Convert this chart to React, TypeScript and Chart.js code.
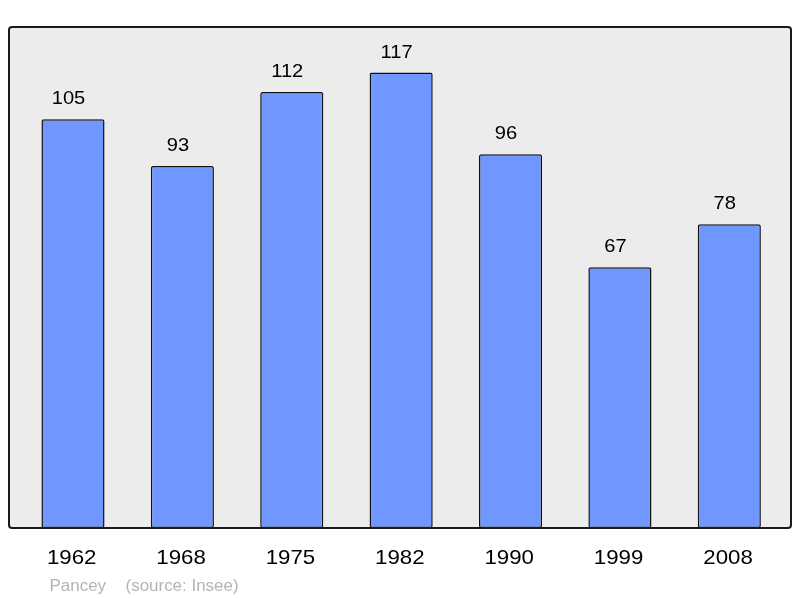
import React, { useEffect, useRef } from "react";
import { Chart, registerables } from "chart.js";

Chart.register(...registerables);

const years: string[] = ["1962", "1968", "1975", "1982", "1990", "1999", "2008"];
const population: number[] = [105, 93, 112, 117, 96, 67, 78];
const commune = "Pancey";
const sourceNote = "(source: Insee)";

const FONT = "'Liberation Sans', Arial, sans-serif";
const STRETCH = 1.06;

function stretchedText(ctx: CanvasRenderingContext2D, text: string, x: number, y: number) {
  ctx.save();
  ctx.translate(x, y);
  ctx.scale(STRETCH, 1);
  ctx.fillText(text, 0, 0);
  ctx.restore();
}

const framePlugin = {
  id: "framePlugin",
  beforeDatasetsDraw(chart: any) {
    const { ctx, chartArea } = chart;
    const l = chartArea.left - 9.3;
    const r = chartArea.right + 7;
    const t = chartArea.top;
    const b = chartArea.bottom;
    ctx.save();
    ctx.fillStyle = "#ececec";
    ctx.beginPath();
    ctx.roundRect(l, t, r - l, b - t, 3);
    ctx.fill();
    ctx.restore();
  },
  afterDatasetsDraw(chart: any) {
    const { ctx, chartArea } = chart;
    const l = chartArea.left - 9.3;
    const r = chartArea.right + 7;
    const t = chartArea.top;
    const b = chartArea.bottom;
    ctx.save();
    ctx.strokeStyle = "#1a1a1a";
    ctx.lineWidth = 2;
    ctx.beginPath();
    ctx.roundRect(l, t, r - l, b - t, 3);
    ctx.stroke();

    const xScale = chart.scales.x;
    const yScale = chart.scales.y;
    ctx.fillStyle = "#000";
    ctx.textAlign = "center";
    ctx.textBaseline = "alphabetic";
    ctx.font = `19px ${FONT}`;
    population.forEach((v, i) => {
      const x = xScale.getPixelForValue(i);
      const y = yScale.getPixelForValue(v);
      stretchedText(ctx, String(v), x - 4.5, y - 15);
    });
    ctx.font = `21px ${FONT}`;
    years.forEach((yr, i) => {
      const x = xScale.getPixelForValue(i);
      stretchedText(ctx, yr, x - 1.3, b + 35.5);
    });
    ctx.fillStyle = "#b4b4b4";
    ctx.textAlign = "left";
    ctx.font = `16px ${FONT}`;
    stretchedText(ctx, commune, 49.5, 591);
    stretchedText(ctx, sourceNote, 125.5, 591);
    ctx.restore();
  },
};

export default function App() {
  const ref = useRef<HTMLCanvasElement>(null);
  useEffect(() => {
    if (!ref.current) return;
    const chart = new Chart(ref.current, {
      type: "bar",
      data: {
        labels: years,
        datasets: [
          {
            data: population,
            backgroundColor: "#7096ff",
            borderColor: "#111",
            borderWidth: 1.5,
            borderRadius: 2,
            borderSkipped: false,
            barPercentage: 0.577,
            categoryPercentage: 1,
          },
        ],
      },
      options: {
        responsive: false,
        animation: false,
        devicePixelRatio: 1,
        layout: { padding: { left: 18.3, right: 16, top: 27, bottom: 70 } },
        plugins: { legend: { display: false }, tooltip: { enabled: false } },
        scales: {
          x: { display: false, offset: true },
          y: { display: false, min: 0, max: 128.7 },
        },
      },
      plugins: [framePlugin],
    });
    return () => chart.destroy();
  }, []);
  return (
    <div style={{ position: "absolute", left: 0, top: 0, width: 800, height: 598 }}>
      <canvas ref={ref} width={800} height={598} style={{ display: "block" }} />
    </div>
  );
}
